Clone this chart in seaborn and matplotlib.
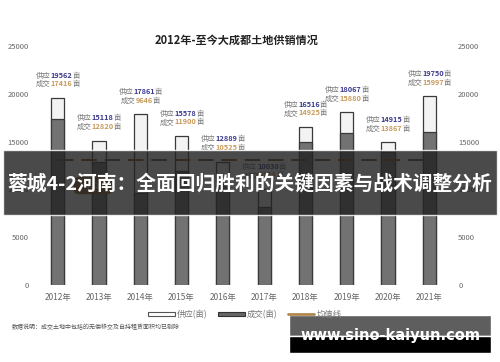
import numpy as np
import pandas as pd
import seaborn as sns
import matplotlib.pyplot as plt
from matplotlib.patches import Patch, Rectangle
from matplotlib.lines import Line2D
from matplotlib.offsetbox import TextArea, HPacker, VPacker, AnnotationBbox

years = ["2012年", "2013年", "2014年", "2015年", "2016年",
         "2017年", "2018年", "2019年", "2020年", "2021年"]
supply = [19562, 15118, 17861, 15578, 12889, 10030, 16516, 18067, 14915, 19750]
deal = [17416, 12820, 9646, 11900, 10525, 8144, 14925, 15880, 13867, 15997]
y_ticks = [0, 5000, 10000, 15000, 20000, 25000]

title = "2012年-至今大成都土地供销情况"
banner = "蓉城4-2河南：全面回归胜利的关键因素与战术调整分析"
site = "www.sino-kaiyun.com"
note = "数据说明：成交土地中包括的无偿移交及自持租赁面积均已剔除"

sns.set_theme(style="white")
plt.rcParams["font.family"] = ["Noto Sans CJK SC", "DejaVu Sans"]

df = pd.DataFrame({"year": years, "supply": supply, "deal": deal})
avg = np.mean(deal)

fig = plt.figure(figsize=(5, 3.62), dpi=100)
ax = fig.add_axes([0.066, 0.2127, 0.842, 0.660])

sns.barplot(data=df, x="year", y="supply", color="#f3f3f3", edgecolor="#3a3a3a",
            linewidth=0.9, width=0.32, saturation=1, ax=ax)
sns.barplot(data=df, x="year", y="deal", color="#727272", edgecolor="#3a3a3a",
            linewidth=0.9, width=0.32, saturation=1, ax=ax)
ax.plot([0, len(years) - 1], [avg, avg], color="#7a4a1e", lw=1.4,
        dashes=(8, 4))

ax.set_xlim(-0.6, len(years) - 0.4)
ax.set_ylim(0, 25000)
ax.set_yticks(y_ticks)
ax.set_xlabel("")
ax.set_ylabel("")
for s in ax.spines.values():
    s.set_visible(False)
ax.axhline(0, color="#e0e0e0", lw=0.8)
ax.tick_params(axis="y", labelsize=5.5, colors="#666666", length=0, pad=3,
               labelright=True)
ax.tick_params(axis="x", labelsize=6, colors="#666666", length=0, pad=6)

# two-line coloured labels above each bar
fs = 5.3
for i, (s, d) in enumerate(zip(supply, deal)):
    l1 = HPacker(children=[
        TextArea("供应", textprops=dict(color="#777777", fontsize=fs)),
        TextArea(str(s), textprops=dict(color="#3b3b8f", fontsize=fs, weight="bold")),
        TextArea("亩", textprops=dict(color="#777777", fontsize=fs)),
    ], pad=0, sep=0)
    l2 = HPacker(children=[
        TextArea("成交", textprops=dict(color="#777777", fontsize=fs)),
        TextArea(str(d), textprops=dict(color="#c99a5b", fontsize=fs, weight="bold")),
        TextArea("亩", textprops=dict(color="#777777", fontsize=fs)),
    ], pad=0, sep=0)
    box = VPacker(children=[l1, l2], pad=0, sep=0.5, align="center")
    ab = AnnotationBbox(box, (i, s), xybox=(0, 7), xycoords="data",
                        boxcoords="offset points", box_alignment=(0.5, 0),
                        frameon=False)
    ax.add_artist(ab)

ax.text(0.85, 10400, "13112亩", ha="center", va="center", fontsize=5.5,
        color="#e8d0b0",
        bbox=dict(boxstyle="round,pad=0.6", fc="#8b5a2b", ec="none"))

fig.text(0.474, 0.89, title, ha="center", va="center", fontsize=8,
         weight="bold", color="#222222")

handles = [Patch(facecolor="white", edgecolor="#555555", lw=0.8),
           Patch(facecolor="#666666", edgecolor="#333333", lw=0.8),
           Line2D([], [], color="#b08850", lw=2)]
fig.legend(handles, ["供应(亩)", "成交(亩)", "均值线"], loc="center",
           bbox_to_anchor=(0.49, 0.132), ncol=3, frameon=False, fontsize=6,
           handlelength=3.2, handleheight=0.4, columnspacing=1.2,
           labelcolor="#777777", handletextpad=0.3)
fig.text(0.024, 0.097, note, ha="left", va="center", fontsize=4.3,
         color="#555555")

# overlay banner
fig.patches.append(Rectangle((0.006, 0.406), 0.988, 0.18, transform=fig.transFigure,
                             facecolor="#222222", alpha=0.82, zorder=5))
fig.text(0.5, 0.494, banner, ha="center", va="center", fontsize=14.2,
         weight="bold", color="white", zorder=6)

# site watermark box
fig.patches.append(Rectangle((0.578, 0.072), 0.404, 0.058, transform=fig.transFigure,
                             facecolor="#5e5e5e", zorder=5))
fig.patches.append(Rectangle((0.578, 0.025), 0.404, 0.047, transform=fig.transFigure,
                             facecolor="black", zorder=5))
fig.text(0.78, 0.072, site, ha="center", va="center", fontsize=10.5,
         weight="bold", color="white", family=["DejaVu Sans"], zorder=6)

fig.savefig("out.png", dpi=100)
